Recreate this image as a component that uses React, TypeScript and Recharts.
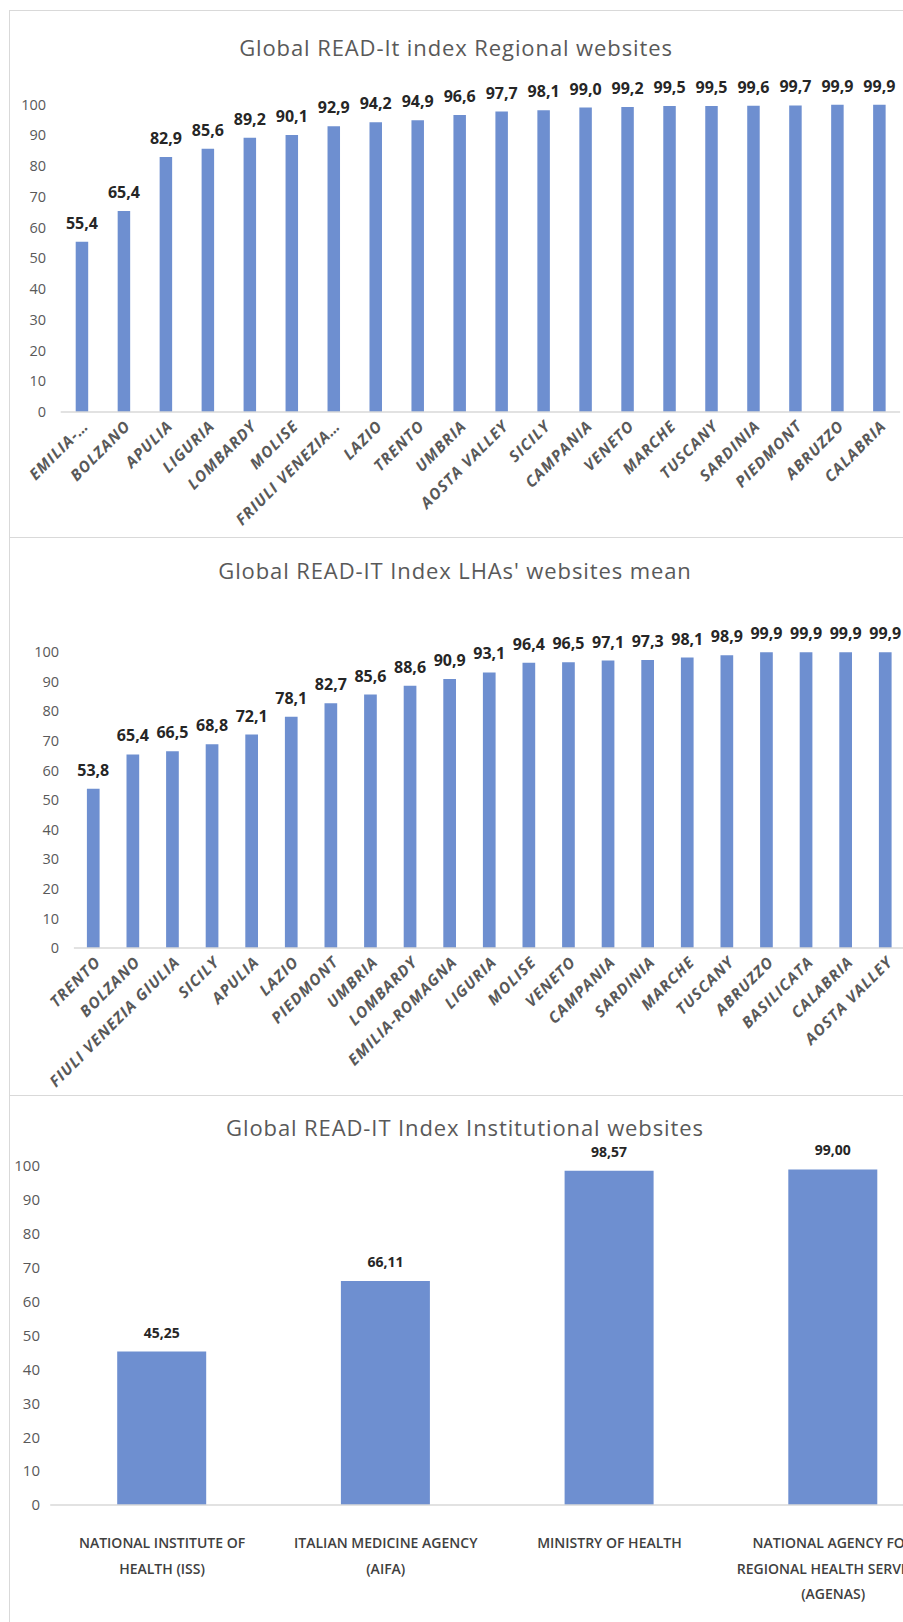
import React from 'react';
import { BarChart, Bar, XAxis, YAxis, LabelList } from 'recharts';

// chart 1: regional websites
const regionalNames = ['EMILIA-…', 'BOLZANO', 'APULIA', 'LIGURIA', 'LOMBARDY', 'MOLISE', 'FRIULI VENEZIA…', 'LAZIO', 'TRENTO', 'UMBRIA', 'AOSTA VALLEY', 'SICILY', 'CAMPANIA', 'VENETO', 'MARCHE', 'TUSCANY', 'SARDINIA', 'PIEDMONT', 'ABRUZZO', 'CALABRIA'];
const regionalValues = [55.4, 65.4, 82.9, 85.6, 89.2, 90.1, 92.9, 94.2, 94.9, 96.6, 97.7, 98.1, 99.0, 99.2, 99.5, 99.5, 99.6, 99.7, 99.9, 99.9];

// chart 2: LHAs' websites mean
const lhaNames = ['TRENTO', 'BOLZANO', 'FIULI VENEZIA GIULIA', 'SICILY', 'APULIA', 'LAZIO', 'PIEDMONT', 'UMBRIA', 'LOMBARDY', 'EMILIA-ROMAGNA', 'LIGURIA', 'MOLISE', 'VENETO', 'CAMPANIA', 'SARDINIA', 'MARCHE', 'TUSCANY', 'ABRUZZO', 'BASILICATA', 'CALABRIA', 'AOSTA VALLEY'];
const lhaValues = [53.8, 65.4, 66.5, 68.8, 72.1, 78.1, 82.7, 85.6, 88.6, 90.9, 93.1, 96.4, 96.5, 97.1, 97.3, 98.1, 98.9, 99.9, 99.9, 99.9, 99.9];

// chart 3: institutional websites
const instNames = ['NATIONAL INSTITUTE OF HEALTH (ISS)', 'ITALIAN MEDICINE AGENCY (AIFA)', 'MINISTRY OF HEALTH', 'NATIONAL AGENCY FOR REGIONAL HEALTH SERVICES (AGENAS)'];
const instLines = [
  ['NATIONAL INSTITUTE OF', 'HEALTH (ISS)'],
  ['ITALIAN MEDICINE AGENCY', '(AIFA)'],
  ['MINISTRY OF HEALTH'],
  ['NATIONAL AGENCY FOR', 'REGIONAL HEALTH SERVICES', '(AGENAS)'],
];
const instValues = [45.25, 66.11, 98.57, 99.0];

const yTicks = [0, 10, 20, 30, 40, 50, 60, 70, 80, 90, 100];

const regionalData = regionalNames.map((name, i) => ({ name, value: regionalValues[i] }));
const lhaData = lhaNames.map((name, i) => ({ name, value: lhaValues[i] }));
const instData = instNames.map((name, i) => ({ name, value: instValues[i] }));

const BAR = '#6E8FD0';
const GREY = '#595959';
const AXIS = '#D9D9D9';
const FONT = '"Open Sans", sans-serif';

const comma1 = (v: any) => Number(v).toFixed(1).replace('.', ',');
const comma2 = (v: any) => Number(v).toFixed(2).replace('.', ',');

const RotTick = (props: any) => {
  const { x, y, payload } = props;
  return (
    <g transform={`translate(${x + 8},${y + 15})`}>
      <text textAnchor="end" transform="rotate(-45)" fill={GREY} fontSize={15.5} letterSpacing={1.1} fontWeight="bold" fontStyle="italic" fontFamily={FONT}>
        {payload.value}
      </text>
    </g>
  );
};

const WrapTick = (props: any) => {
  const { x, y, index } = props;
  const lines = instLines[index] || [];
  return (
    <text x={x} y={y + 43} textAnchor="middle" fill="#404040" fontSize={14} fontWeight={600} fontFamily={FONT}>
      {lines.map((l, i) => (
        <tspan key={i} x={x} dy={i === 0 ? 0 : 25.5}>{l}</tspan>
      ))}
    </text>
  );
};

const Title = ({ text, cx, cy }: { text: string; cx: number; cy: number }) => (
  <div style={{ position: 'absolute', left: cx - 450, top: cy - 12, width: 900, textAlign: 'center', fontSize: 22, letterSpacing: 0.9, lineHeight: '24px', color: GREY, fontFamily: FONT }}>
    {text}
  </div>
);

const panel = (top: number, height: number): React.CSSProperties => ({
  position: 'absolute', left: 1, top, width: 1000, height, border: `1.5px solid ${AXIS}`, boxSizing: 'border-box',
});

export default function App() {
  return (
    <div style={{ position: 'fixed', left: 0, top: 0, width: 903, height: 1622, overflow: 'hidden', background: '#fff', fontFamily: FONT }}>
      <div style={{ position: 'absolute', left: 8, top: 8, width: 895, height: 1614 }}>
        <div style={panel(2, 528)} />
        <div style={panel(529, 559)} />
        <div style={panel(1087, 600)} />

        <Title text="Global READ-It index Regional websites" cx={448} cy={38.5} />
        <Title text="Global READ-IT Index LHAs' websites mean" cx={447} cy={562} />
        <Title text="Global READ-IT Index Institutional websites" cx={457} cy={1118.5} />

        <div style={{ position: 'absolute', left: 0, top: 0 }}>
          <BarChart width={895} height={526} data={regionalData} margin={{ top: 96.5, right: 2.9, left: 0, bottom: 0 }}>
            <XAxis dataKey="name" interval={0} tickLine={false} tickSize={0} tickMargin={0} height={122} stroke={AXIS} strokeWidth={1.5} tick={<RotTick />} />
            <YAxis domain={[0, 100]} ticks={yTicks} width={52.7} axisLine={false} tickLine={false} tickSize={0} tickMargin={14.7} tick={{ fill: GREY, fontSize: 14.5, fontFamily: FONT }} />
            <Bar dataKey="value" fill={BAR} barSize={12.5} isAnimationActive={false}>
              <LabelList dataKey="value" position="top" offset={13} formatter={comma1} fill="#262626" fontSize={16} fontWeight="bold" fontFamily={FONT} />
            </Bar>
          </BarChart>
        </div>

        <div style={{ position: 'absolute', left: 0, top: 529 }}>
          <BarChart width={900} height={557} data={lhaData} margin={{ top: 115, right: 2.5, left: 0, bottom: 0 }}>
            <XAxis dataKey="name" interval={0} tickLine={false} tickSize={0} tickMargin={0} height={146} stroke={AXIS} strokeWidth={1.5} tick={<RotTick />} />
            <YAxis domain={[0, 100]} ticks={yTicks} width={65.9} axisLine={false} tickLine={false} tickSize={0} tickMargin={14.9} tick={{ fill: GREY, fontSize: 14.5, fontFamily: FONT }} />
            <Bar dataKey="value" fill={BAR} barSize={12.7} isAnimationActive={false}>
              <LabelList dataKey="value" position="top" offset={13} formatter={comma1} fill="#262626" fontSize={16} fontWeight="bold" fontFamily={FONT} />
            </Bar>
          </BarChart>
        </div>

        <div style={{ position: 'absolute', left: 0, top: 1087 }}>
          <BarChart width={940} height={519} data={instData} margin={{ top: 71, right: 3, left: 0, bottom: 0 }}>
            <XAxis dataKey="name" interval={0} tickLine={false} tickSize={0} tickMargin={0} height={109} stroke={AXIS} strokeWidth={1.5} tick={<WrapTick />} />
            <YAxis domain={[0, 100]} ticks={yTicks} width={42.2} axisLine={false} tickLine={false} tickSize={0} tickMargin={10.2} tick={{ fill: GREY, fontSize: 15, fontFamily: FONT }} />
            <Bar dataKey="value" fill={BAR} barSize={89} isAnimationActive={false}>
              <LabelList dataKey="value" position="top" offset={14} formatter={comma2} fill="#262626" fontSize={14} fontWeight="bold" fontFamily={FONT} />
            </Bar>
          </BarChart>
        </div>
      </div>
    </div>
  );
}
